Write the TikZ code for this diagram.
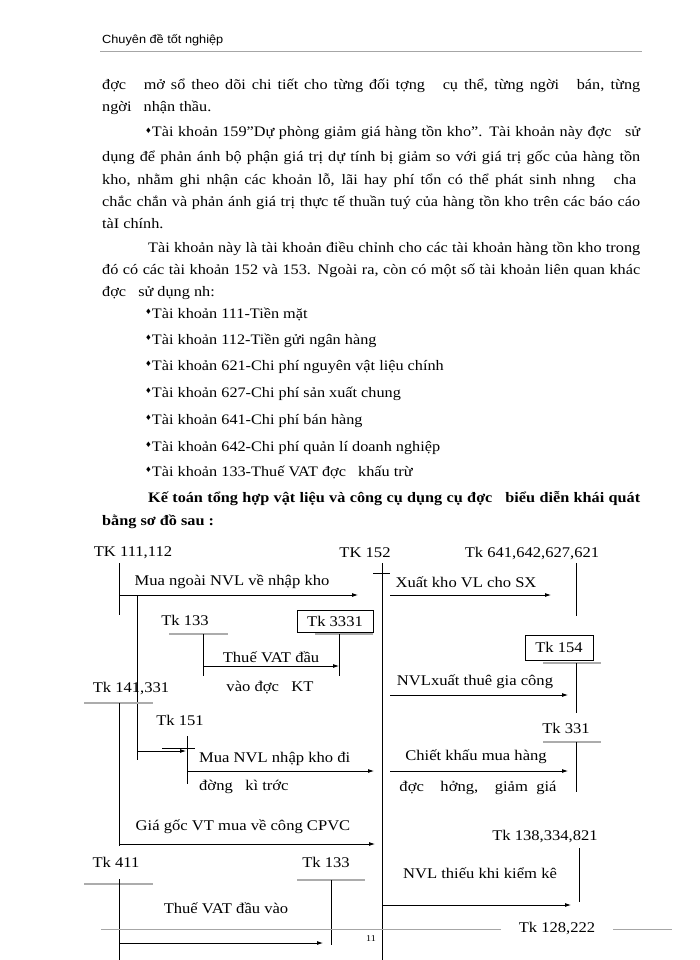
\documentclass[tikz,border=0pt]{standalone}
\usepackage{fontspec}
\setmainfont{Liberation Serif}[FakeStretch=1.12]
\newfontfamily\hdrfont{Liberation Sans}[FakeStretch=1.08]
\newfontfamily\symfont{DejaVu Sans}
\usetikzlibrary{arrows.meta}
\newcommand{\bul}{\raisebox{0.55ex}{\symfont\fontsize{7.5}{8}\selectfont ♦}}
\newcommand{\jl}[2]{\makebox[#1pt][s]{#2}}
\begin{document}
\begin{tikzpicture}[x=1pt,y=-1pt,
  body/.style={anchor=base west, inner sep=0pt, font=\fontsize{14.5}{16}\selectfont},
  lab/.style={inner sep=0pt, font=\fontsize{14.8}{17}\selectfont},
  boxacct/.style={lab, draw, line width=0.8pt},
  conn/.style={line width=0.8pt},
  arr/.style={conn, -{Latex[length=6pt,width=4pt]}},
  tline/.style={line width=1.4pt, gray!65},
  rule/.style={line width=0.9pt, gray!70}]
\useasboundingbox[fill=white] (0,0) rectangle (700,960);

% header
\node[anchor=base west, inner sep=0pt, font=\hdrfont\fontsize{11.8}{13}\selectfont] (hdr) at (102,44) {Chuyên đề tốt nghiệp};
\coordinate (hl1) at (100,51); \coordinate (hl2) at (642,51);
\draw[rule] (hl1) -- (hl2);

% body text
\node[body] (l1) at (102,90) {\jl{538}{đợc\ \ \ mở sổ theo dõi chi tiết cho từng đối tợng\ \ \ cụ thể, từng ngời\ \ \ bán, từng}};
\node[body] (l2) at (102,112) {ngời\ \ \ nhận thầu.};
\node[body] (l3) at (145,137) {\jl{495}{\bul Tài khoản 159"Dự phòng giảm giá hàng tồn kho". Tài khoản này đợc\ \ \ sử}};
\node[body] (l4) at (102,162) {\jl{538}{dụng để phản ánh bộ phận giá trị dự tính bị giảm so với giá trị gốc của hàng tồn}};
\node[body] (l5) at (102,184) {\jl{534}{kho, nhằm ghi nhận các khoản lỗ, lãi hay phí tổn có thể phát sinh nhng\ \ \ cha}};
\node[body] (l6) at (102,206) {\jl{538}{chắc chắn và phản ánh giá trị thực tế thuần tuý của hàng tồn kho trên các báo cáo}};
\node[body] (l7) at (102,228) {tàI chính.};
\node[body] (l8) at (148,252) {\jl{492}{Tài khoản này là tài khoản điều chỉnh cho các tài khoản hàng tồn kho trong}};
\node[body] (l9) at (102,274) {\jl{538}{đó có các tài khoản 152 và 153. Ngoài ra, còn có một số tài khoản liên quan khác}};
\node[body] (l10) at (102,296) {đợc\ \ \ sử dụng nh:};
\node[body] (l11) at (145,318) {\bul Tài khoản 111-Tiền mặt};
\node[body] (l12) at (145,344) {\bul Tài khoản 112-Tiền gửi ngân hàng};
\node[body] (l13) at (145,370) {\bul Tài khoản 621-Chi phí nguyên vật liệu chính};
\node[body] (l14) at (145,397) {\bul Tài khoản 627-Chi phí sản xuất chung};
\node[body] (l15) at (145,424) {\bul Tài khoản 641-Chi phí bán hàng};
\node[body] (l16) at (145,451) {\bul Tài khoản 642-Chi phí quản lí doanh nghiệp};
\node[body] (l17) at (145,476) {\bul Tài khoản 133-Thuế VAT đợc\ \ \ khấu trừ};
\node[body, font=\fontsize{14.5}{16}\selectfont\bfseries] (l18) at (148,502) {\jl{492}{Kế toán tổng hợp vật liệu và công cụ dụng cụ đợc\ \ \ biểu diễn khái quát}};
\node[body, font=\fontsize{14.5}{16}\selectfont\bfseries] (l19) at (102,525) {bằng sơ đồ sau :};

% ---------- diagram labels ----------
\node[lab] (k111) at (133,553) {TK 111,112};
\node[lab] (k152) at (365,553) {TK 152};
\node[lab] (k641) at (532,553) {Tk 641,642,627,621};
\node[lab] (k133a) at (185,620) {Tk 133};
\node[boxacct, minimum width=76pt, minimum height=22pt] (k3331) at (335,621) {Tk 3331};
\node[boxacct, minimum width=68pt, minimum height=25pt] (k154) at (559,647.5) {Tk 154};
\node[lab] (k141) at (131,688) {Tk 141,331};
\node[lab] (k151) at (180,720) {Tk 151};
\node[lab] (k331) at (566,728) {Tk 331};
\node[lab] (k138) at (545,836) {Tk 138,334,821};
\node[lab] (k411) at (116,862) {Tk 411};
\node[lab] (k133b) at (326,862) {Tk 133};
\node[lab] (k128) at (557,928) {Tk 128,222};

\node[lab] (t1) at (232,582) {Mua ngoài NVL về nhập kho};
\node[lab] (t2) at (466,582) {Xuất kho VL cho SX};
\node[lab] (t3) at (271,657) {Thuế VAT đầu};
\node[lab] (t3b) at (270,688) {vào đợc\ \ \ KT};
\node[lab] (t4) at (475,682) {NVLxuất thuê gia công};
\node[lab, anchor=west] (t5) at (199,759) {Mua NVL nhập kho đi};
\node[lab, anchor=west] (t5b) at (199,787) {đờng\ \ \ kì trớc};
\node[lab] (t6) at (476,757) {Chiết khấu mua hàng};
\node[lab] (t6b) at (478,788) {đợc\ \ \ \ hởng,\ \ \ \ giảm\ \ giá};
\node[lab] (t7) at (243,827) {Giá gốc VT mua về công CPVC};
\node[lab] (t8) at (480,873) {NVL thiếu khi kiểm kê};
\node[lab] (t9) at (226,908) {Thuế VAT đầu vào};
\node[inner sep=0pt, font=\fontsize{9}{10}\selectfont] (pg) at (371,939) {11};

% ---------- connectors ----------
% TK 111,112
\coordinate (a1) at (119,563); \coordinate (a2) at (119,615);
\draw[conn] (a1) -- (a2);
\coordinate (b1) at (119,595); \coordinate (b2) at (358,595);
\draw[arr] (b1) -- (b2);
\coordinate (c1) at (137,595); \coordinate (c2) at (137,760);
\draw[conn] (c1) -- (c2);
% TK 152
\coordinate (d1) at (382,563); \coordinate (d2) at (382,960);
\draw[conn] (d1) -- (d2);
\coordinate (d3) at (373,573); \coordinate (d4) at (390,573);
\draw[conn] (d3) -- (d4);
\coordinate (e1) at (390,595); \coordinate (e2) at (551,595);
\draw[arr] (e1) -- (e2);
% TK 641...
\coordinate (f1) at (576,563); \coordinate (f2) at (576,616);
\draw[conn] (f1) -- (f2);
% Tk 133 upper
\coordinate (g1) at (169,634); \coordinate (g2) at (228,634);
\draw[tline] (g1) -- (g2);
\coordinate (g3) at (203,634); \coordinate (g4) at (203,676);
\draw[conn] (g3) -- (g4);
\coordinate (g5) at (203,666); \coordinate (g6) at (339,666);
\draw[arr] (g5) -- (g6);
% Tk 3331
\coordinate (h1) at (315,634); \coordinate (h2) at (373,634);
\draw[tline] (h1) -- (h2);
\coordinate (h3) at (339,634); \coordinate (h4) at (339,676);
\draw[conn] (h3) -- (h4);
% Tk 154
\coordinate (i1) at (543,663); \coordinate (i2) at (601,663);
\draw[tline] (i1) -- (i2);
\coordinate (i3) at (576,663); \coordinate (i4) at (576,713);
\draw[conn] (i3) -- (i4);
\coordinate (i5) at (390,695); \coordinate (i6) at (568,695);
\draw[arr] (i5) -- (i6);
% Tk 141,331
\coordinate (j1) at (84,703); \coordinate (j2) at (153,703);
\draw[tline] (j1) -- (j2);
\coordinate (j3) at (119,703); \coordinate (j4) at (119,846);
\draw[conn] (j3) -- (j4);
% Tk 151
\coordinate (m1) at (162,748); \coordinate (m2) at (195,748);
\draw[conn] (m1) -- (m2);
\coordinate (m3) at (187,736); \coordinate (m4) at (187,784);
\draw[conn] (m3) -- (m4);
\coordinate (m5) at (137,751); \coordinate (m6) at (186,751);
\draw[arr] (m5) -- (m6);
\coordinate (m7) at (187,771); \coordinate (m8) at (374,771);
\draw[arr] (m7) -- (m8);
% Tk 331
\coordinate (n1) at (543,742); \coordinate (n2) at (601,742);
\draw[tline] (n1) -- (n2);
\coordinate (n3) at (576,742); \coordinate (n4) at (576,792);
\draw[conn] (n3) -- (n4);
\coordinate (n5) at (390,771); \coordinate (n6) at (568,771);
\draw[arr] (n5) -- (n6);
% Gia goc
\coordinate (o1) at (119,844); \coordinate (o2) at (375,844);
\draw[arr] (o1) -- (o2);
% Tk 138
\coordinate (q1) at (579,848); \coordinate (q2) at (579,902);
\draw[conn] (q1) -- (q2);
\coordinate (q3) at (382,905); \coordinate (q4) at (571,905);
\draw[arr] (q3) -- (q4);
% Tk 411
\coordinate (r1) at (84,884); \coordinate (r2) at (153,884);
\draw[tline] (r1) -- (r2);
\coordinate (r3) at (119,879); \coordinate (r4) at (119,960);
\draw[conn] (r3) -- (r4);
% Tk 133 lower
\coordinate (s1) at (297,880); \coordinate (s2) at (365,880);
\draw[tline] (s1) -- (s2);
\coordinate (s3) at (331,880); \coordinate (s4) at (331,945);
\draw[conn] (s3) -- (s4);
\coordinate (s5) at (119,943); \coordinate (s6) at (323,943);
\draw[arr] (s5) -- (s6);
% Tk 128,222 / footer line
\coordinate (u1) at (101,929); \coordinate (u2) at (501,929);
\draw[rule] (u1) -- (u2);
\coordinate (u3) at (613,929); \coordinate (u4) at (672,929);
\draw[rule] (u3) -- (u4);
\end{tikzpicture}
\end{document}
